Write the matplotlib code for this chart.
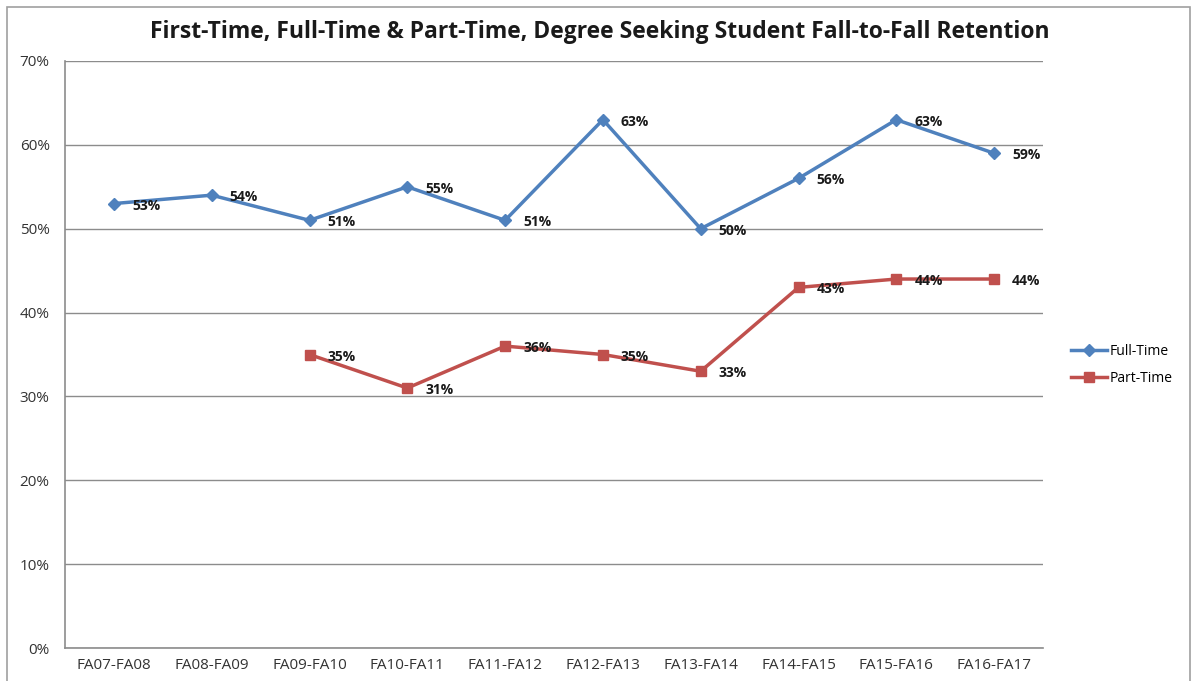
import matplotlib.pyplot as plt
from matplotlib.patches import Rectangle

categories = ['FA07-FA08', 'FA08-FA09', 'FA09-FA10', 'FA10-FA11', 'FA11-FA12',
              'FA12-FA13', 'FA13-FA14', 'FA14-FA15', 'FA15-FA16', 'FA16-FA17']
full_time = [53, 54, 51, 55, 51, 63, 50, 56, 63, 59]
part_time = [None, None, 35, 31, 36, 35, 33, 43, 44, 44]
y_ticks = [0, 10, 20, 30, 40, 50, 60, 70]

plt.rcParams['font.family'] = ['Open Sans', 'DejaVu Sans']

fig = plt.figure(figsize=(11.93, 6.81), dpi=100)
W, H = 1193, 681
ax = fig.add_axes([65 / W, 1 - 648 / H, (1043 - 65) / W, (648 - 61) / H])

# outer chart border
fig.patches.append(Rectangle((7 / W, -0.02), (1190 - 7) / W, 1.02 - 7 / H,
                             transform=fig.transFigure, fill=False,
                             edgecolor='#a0a0a0', linewidth=1.2))

x = list(range(len(categories)))
ax.plot(x, full_time, color='#4F81BD', linewidth=2.5, marker='D',
        markersize=6, label='Full-Time')
pt_x = [i for i, v in zip(x, part_time) if v is not None]
pt_y = [v for v in part_time if v is not None]
ax.plot(pt_x, pt_y, color='#C0504D', linewidth=2.5, marker='s',
        markersize=7.5, label='Part-Time')

for xs, ys in [(x, full_time), (pt_x, pt_y)]:
    for xi, yi in zip(xs, ys):
        ax.annotate(f'{yi}%', (xi, yi), xytext=(13, -1.5), textcoords='offset points',
                    ha='left', va='center', fontsize=10, fontweight='bold',
                    color='#1a1a1a')

ax.set_xlim(-0.5, len(categories) - 0.5)
ax.set_ylim(0, 70)
ax.set_yticks(y_ticks)
ax.set_yticklabels([f'{t}%' for t in y_ticks])
ax.set_xticks(x)
ax.set_xticklabels(categories)
ax.tick_params(axis='both', length=0, labelsize=11, colors='#333333')
ax.tick_params(axis='y', pad=11)
ax.tick_params(axis='x', pad=7)
ax.grid(axis='y', color='#8c8c8c', linewidth=1)
ax.set_axisbelow(True)
for side in ['top', 'right']:
    ax.spines[side].set_visible(False)
for side in ['left', 'bottom']:
    ax.spines[side].set_color('#8c8c8c')
    ax.spines[side].set_linewidth(1.2)

fig.text(600 / W, 1 - 32 / H, 'First-Time, Full-Time & Part-Time, Degree Seeking Student Fall-to-Fall Retention',
         ha='center', va='center', fontsize=16.5, fontweight='bold', color='#1a1a1a')

fig.legend(loc='center left', bbox_to_anchor=(1058 / W, 1 - 365 / H), frameon=False,
           fontsize=10, handlelength=2.6, handletextpad=0.2, labelspacing=0.9)

fig.savefig('out.png', dpi=100)
